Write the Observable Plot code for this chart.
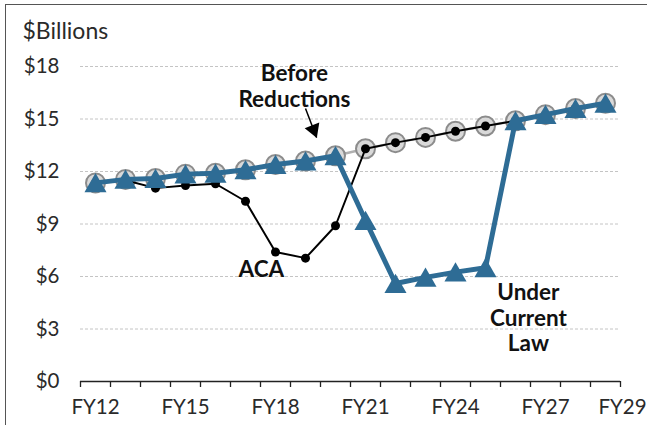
<!DOCTYPE html>
<html><head><meta charset="utf-8">
<script src="https://cdn.jsdelivr.net/npm/d3@7"></script>
<script src="https://cdn.jsdelivr.net/npm/@observablehq/plot@0.6"></script>
<style>
body{margin:0;background:#fff;}
#wrap{position:relative;width:647px;height:425px;overflow:hidden;}
#border{position:absolute;left:5px;top:4px;width:700px;height:500px;border:1.5px solid #555;box-sizing:border-box;pointer-events:none}
</style></head><body><div id="wrap"><div id="chart"></div><div id="border"></div></div>
<script>
// categories (fiscal years)
const years = [12,13,14,15,16,17,18,19,20,21,22,23,24,25,26,27,28,29];
// series ($ billions)
const beforeReductions = [11.35,11.55,11.6,11.85,11.9,12.1,12.4,12.6,12.9,13.3,13.65,13.95,14.3,14.6,14.9,15.25,15.6,15.9];
const aca              = [11.35,11.5,11.05,11.2,11.3,10.3,7.4,7.05,8.9,13.3,13.65,13.95,14.3,14.6,14.9,15.25,15.6,15.9];
const currentLaw       = [11.35,11.55,11.6,11.85,11.9,12.1,12.4,12.6,12.9,9.2,5.6,5.95,6.25,6.5,14.9,15.25,15.6,15.9];
// tick labels
const yTicks = [0,3,6,9,12,15,18];
const xTickYears = [12,15,18,21,24,27];
const xLastTick = [29];

const table = years.map((y,i)=>({year:y, before:beforeReductions[i], aca:aca[i], law:currentLaw[i]}));
const edges = years.map(y=>y-0.5).concat([years[years.length-1]+0.5]);

// annotation placement (data space)
const notes = [
  {text:"Before\nReductions", x:18.63, y:16.89},
  {text:"ACA", x:17.53, y:6.46},
  {text:"Under\nCurrent\nLaw", x:26.43, y:3.66}
];
const arrow = {x1:19.0, y1:15.6, x2:19.37, y2:13.94};

const blue = "#2e6c95";
const font = "Lato, 'Open Sans', sans-serif";

const chart = Plot.plot({
  width:647, height:425,
  marginLeft:80, marginRight:27, marginTop:66, marginBottom:44,
  style:{fontFamily:font, fontSize:"20px", color:"#333", background:"white"},
  x:{type:"linear", domain:[edges[0], edges[edges.length-1]]},
  y:{domain:[0,18]},
  marks:[
    Plot.ruleY(yTicks.filter(d=>d>0), {stroke:"#c4c4c4", strokeDasharray:"3,2", strokeWidth:1}),
    Plot.axisY({ticks:yTicks, tickSize:0, tickPadding:21, tickFormat:d=>"$"+d, fontSize:20.5, fill:"#2a2a2a"}),
    Plot.axisX({ticks:edges, tickSize:6, tickFormat:()=>"", stroke:"#222", strokeWidth:1.3}),
    Plot.axisX({ticks:xTickYears, tickSize:0, tickPadding:18, tickFormat:d=>"FY"+d, fontSize:20.5, fill:"#2a2a2a"}),
    Plot.axisX({ticks:xLastTick, tickSize:0, tickPadding:18, tickFormat:d=>"FY"+d, fontSize:20.5, fill:"#2a2a2a", dx:17}),
    Plot.ruleY([0], {stroke:"#222", strokeWidth:1.5}),
    Plot.text(["$Billions"], {frameAnchor:"top-left", dx:-58, dy:-35, textAnchor:"start", lineAnchor:"middle", fontSize:23, fill:"#2a2a2a"}),
    // Before reductions
    Plot.line(table, {x:"year", y:"before", stroke:"#b0b0b0", strokeWidth:2.5}),
    Plot.dot(table, {x:"year", y:"before", r:9.5, fill:"#d9d9d9", stroke:"#8c8c8c", strokeWidth:2}),
    // ACA
    Plot.line(table, {x:"year", y:"aca", stroke:"#000", strokeWidth:2}),
    Plot.dot(table, {x:"year", y:"aca", r:4.5, fill:"#000"}),
    // Under current law
    Plot.line(table, {x:"year", y:"law", stroke:blue, strokeWidth:5}),
    Plot.dot(table, {x:"year", y:"law", symbol:"triangle", r:8.2, fill:blue, dy:3}),
    // annotations
    Plot.text(notes, {x:"x", y:"y", text:"text", fontWeight:"bold", fontSize:22.5, lineHeight:1.13, fill:"#111", textAnchor:"middle", lineAnchor:"middle"}),
    Plot.link([arrow], {x1:"x1", y1:"y1", x2:"x2", y2:"y2", stroke:"#000", strokeWidth:1.5}),
    Plot.dot([arrow], {x:"x2", y:"y2", symbol:"triangle", r:5.8, fill:"#000", rotate:159, dx:-3, dy:-8})
  ]
});
document.getElementById("chart").appendChild(chart);
</script>
</body></html>
